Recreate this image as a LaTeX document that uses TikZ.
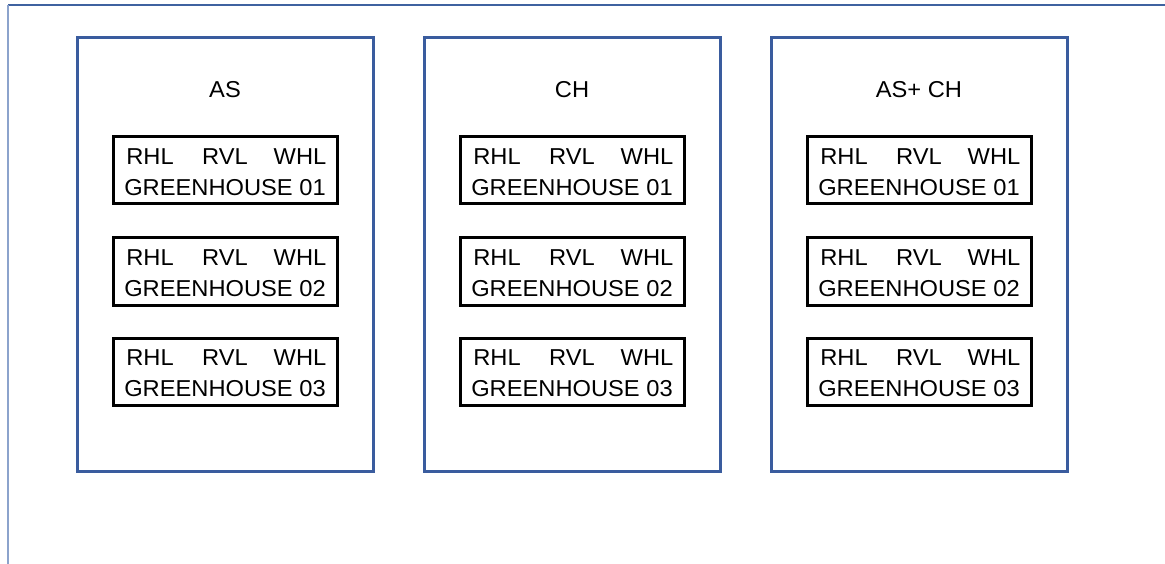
\documentclass[tikz,border=0pt]{standalone}
\usepackage{fontspec}
\setmainfont{Liberation Sans}
\newfontfamily\diafont[FakeStretch=1.03]{Liberation Sans}
\definecolor{frameblue}{HTML}{3F62A0}
\definecolor{framelight}{HTML}{8CA3CC}
\definecolor{boxblue}{HTML}{3A5C9E}
\tikzset{
  groupbox/.style={draw=boxblue, line width=3pt, minimum width=296pt, minimum height=433pt, inner sep=0pt, fill=white},
  housebox/.style={draw=black, line width=3pt, minimum width=224pt, minimum height=67pt, inner sep=0pt},
  lbl/.style={font=\diafont\fontsize{23}{25}\selectfont, inner sep=0pt, anchor=center},
  ttl/.style={font=\diafont\fontsize{23}{25}\selectfont, inner sep=0pt}
}
\begin{document}
\begin{tikzpicture}[x=1pt,y=-1pt]
\useasboundingbox (0,0) rectangle (1165,564);
\coordinate (tl) at (8,5);
\coordinate (tr) at (1165,5);
\coordinate (bl) at (8,564);
\draw[frameblue, line width=1.5pt] (tl) -- (tr);
\draw[framelight, line width=1.8pt] (tl) -- (bl);
\foreach \cx/\name/\title in {225/g1/AS, 572/g2/CH, 919/g3/{AS+ CH}} {
  \node[groupbox] (\name) at (\cx,254.5) {};
  \node[ttl] (\name t) at (\cx,90) {\title};
  \foreach \cy/\n in {170.5/1, 271.5/2, 371.5/3} {
    \node[housebox] (\name h\n) at (\cx,\cy) {};
    \node[lbl] (\name h\n a) at ([xshift=-75pt,yshift=13.5pt]\name h\n.center) {RHL};
    \node[lbl] (\name h\n b) at ([yshift=13.5pt]\name h\n.center) {RVL};
    \node[lbl] (\name h\n c) at ([xshift=75pt,yshift=13.5pt]\name h\n.center) {WHL};
    \node[lbl] (\name h\n d) at ([yshift=-17.5pt]\name h\n.center) {GREENHOUSE 0\n};
  }
}
\end{tikzpicture}
\end{document}
